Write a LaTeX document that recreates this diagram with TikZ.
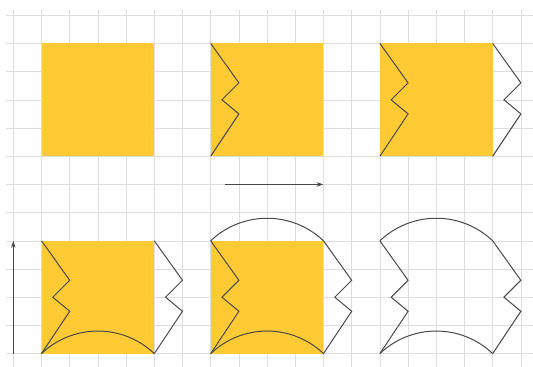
\documentclass[tikz,border=0pt]{standalone}
\usetikzlibrary{arrows.meta}
\definecolor{sunYellow}{RGB}{255,202,51}
\colorlet{edgeGray}{black!72}
\colorlet{paleGrid}{black!13}
\newcommand{\zigzag}{-- ++(1,-1.4) -- ++(-0.6,-0.6) -- ++(0.6,-0.5) -- ++(-1,-1.5)}
\newcommand{\bump}{arc[start angle=133.6, end angle=46.4, radius=2.9]}

\begin{document}
\begin{tikzpicture}[edge/.style={edgeGray, line width=1pt, line join=miter}]
    \useasboundingbox (-0.472,-0.472) rectangle (18.43,12.54);
    \draw[paleGrid, line width=0.6pt] (-0.25,-0.5) grid (18.5,12.2);
    % top row
    \fill[sunYellow] (1,7) rectangle (5,11);
    \fill[sunYellow] (7,7) rectangle (11,11);
    \draw[edge] (7,11) \zigzag;
    \fill[sunYellow] (13,7) rectangle (17,11);
    \draw[edge] (13,11) \zigzag;
    \draw[edge] (17,11) \zigzag;
    \draw[edge, -{Stealth[length=7pt, width=4.5pt]}] (7.5,6) -- (11,6);
    % bottom row
    \draw[edge, -{Stealth[length=7pt, width=4.5pt]}] (0,0) -- (0,4);
    \fill[sunYellow] (1,0) rectangle (5,4);
    \draw[edge] (1,4) \zigzag;
    \draw[edge] (5,4) \zigzag;
    \draw[edge] (1,0) \bump;
    \fill[sunYellow] (7,0) rectangle (11,4);
    \draw[edge] (7,4) \zigzag;
    \draw[edge] (11,4) \zigzag;
    \draw[edge] (7,0) \bump;
    \draw[edge] (7,4) \bump;
    \draw[edge] (13,4) \bump \zigzag;
    \draw[edge] (13,4) \zigzag;
    \draw[edge] (13,0) \bump;
\end{tikzpicture}
\end{document}
